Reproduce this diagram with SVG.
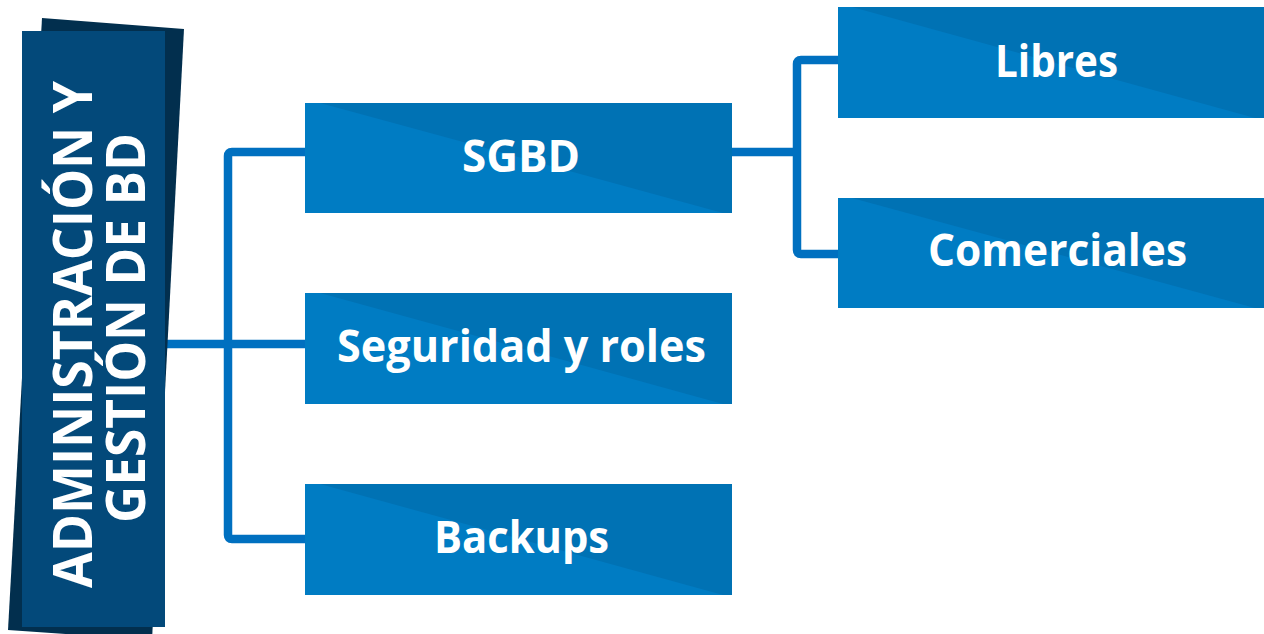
<svg xmlns="http://www.w3.org/2000/svg" width="1264" height="634" viewBox="0 0 1264 634">
<style>
.box{fill:#007cc3}
.shade{fill:#0072b4}
.lbl{font-family:"Open Sans","Liberation Sans",sans-serif;font-weight:700;font-size:45px;fill:#ffffff;text-anchor:middle}
.title{font-family:"Open Sans","Liberation Sans",sans-serif;font-weight:700;font-size:54px;fill:#ffffff}
.conn{fill:none;stroke:#0070c0;stroke-width:8.5;stroke-linejoin:round;stroke-linecap:butt}
</style>
<rect width="1264" height="634" fill="#ffffff"/>
<g id="connectors">
<path class="conn" d="M165,344 H305"/>
<path class="conn" d="M305,152 H232 Q228,152 228,156 V535 Q228,539 232,539 H305"/>
<path class="conn" d="M732,152 H797"/>
<path class="conn" d="M838,60 H801 Q797,60 797,64 V250 Q797,254 801,254 H838"/>
</g>
<g id="root">
<polygon points="42,18 184,29 152,640 8,630" fill="#022f4e"/>
<rect x="22" y="31" width="143" height="596" fill="#03497a"/>
<text class="title" transform="translate(92,588) rotate(-90)" textLength="507" lengthAdjust="spacingAndGlyphs">ADMINISTRACIÓN Y</text>
<text class="title" transform="translate(145,523) rotate(-90)" textLength="390" lengthAdjust="spacingAndGlyphs">GESTIÓN DE BD</text>
</g>
<g id="sgbd">
<rect class="box" x="305" y="103" width="427" height="110"/>
<polygon class="shade" points="320,103 732,103 732,213 723,213"/>
<text class="lbl" x="521" y="172" textLength="118" lengthAdjust="spacingAndGlyphs">SGBD</text>
</g>
<g id="seguridad">
<rect class="box" x="305" y="293" width="427" height="111"/>
<polygon class="shade" points="320,293 732,293 732,404 723,404"/>
<text class="lbl" x="521.5" y="362" textLength="369" lengthAdjust="spacingAndGlyphs">Seguridad y roles</text>
</g>
<g id="backups">
<rect class="box" x="305" y="484" width="427" height="111"/>
<polygon class="shade" points="320,484 732,484 732,595 723,595"/>
<text class="lbl" x="521.5" y="553" textLength="175" lengthAdjust="spacingAndGlyphs">Backups</text>
</g>
<g id="libres">
<rect class="box" x="838" y="7" width="426" height="111"/>
<polygon class="shade" points="852,7 1264,7 1264,118 1255,118"/>
<text class="lbl" x="1056.5" y="77" textLength="123" lengthAdjust="spacingAndGlyphs">Libres</text>
</g>
<g id="comerciales">
<rect class="box" x="838" y="198" width="426" height="110"/>
<polygon class="shade" points="852,198 1264,198 1264,308 1255,308"/>
<text class="lbl" x="1057.5" y="266" textLength="259" lengthAdjust="spacingAndGlyphs">Comerciales</text>
</g>
</svg>
